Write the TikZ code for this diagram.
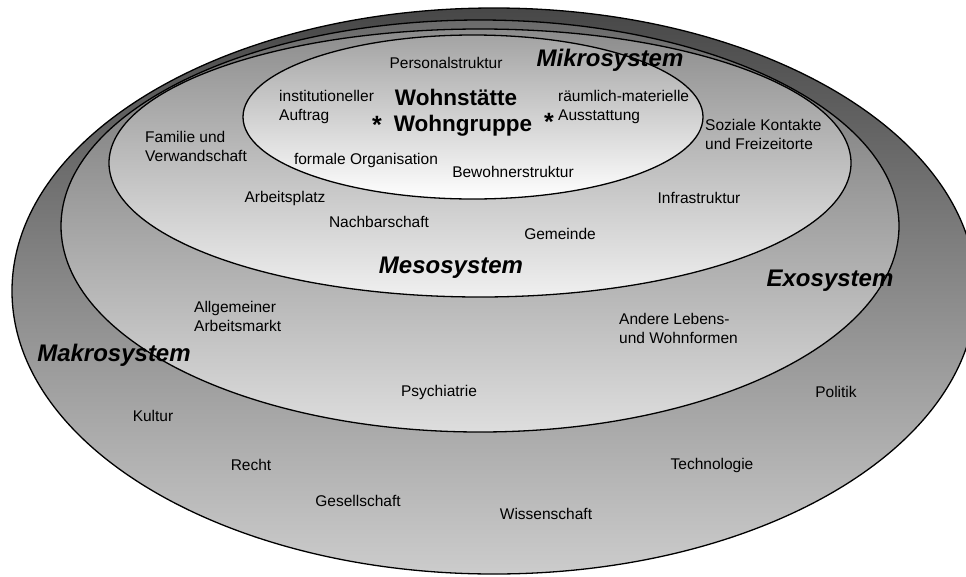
\documentclass[tikz,border=0pt]{standalone}
\usepackage{fontspec}
\setmainfont{Liberation Sans}
\usetikzlibrary{shapes.geometric}

\begin{document}
\begin{tikzpicture}[x=1pt, y=-1pt,
  system/.style={ellipse, draw=black, line width=1.3pt, inner sep=0pt},
  lbl/.style={inner sep=0pt, font=\fontsize{15.5}{19}\selectfont},
  lbll/.style={lbl, align=left, anchor=west},
  sysname/.style={inner sep=0pt, font=\fontsize{24}{28}\selectfont\bfseries\itshape},
  core/.style={inner sep=0pt, font=\fontsize{22.5}{26}\selectfont\bfseries},
  star/.style={inner sep=0pt, font=\fontsize{25}{27}\selectfont\bfseries}]
\useasboundingbox (0,0) rectangle (966,576);

% nested systems, outermost first
\node[system, minimum width=964pt, minimum height=566pt,
      top color=black!72, bottom color=black!20] (makro) at (494,291) {};
\node[system, minimum width=838pt, minimum height=412pt,
      top color=black!58, bottom color=black!13] (exo) at (480,226) {};
\node[system, minimum width=742pt, minimum height=268pt,
      top color=black!45, bottom color=black!6] (meso) at (480,163) {};
\node[system, minimum width=460pt, minimum height=164pt,
      top color=black!36, bottom color=white] (mikro) at (473,117) {};

% Mikrosystem
\node[lbl] (personal) at (446,63) {Personalstruktur};
\node[sysname] (mikroname) at (610,60) {Mikrosystem};
\node[lbll] (auftrag) at (279,107) {institutioneller\\Auftrag};
\node[core] (wohnstaette) at (456,97) {Wohnstätte};
\node[core] (wohngruppe) at (463,126) {Wohngruppe};
\node[star] (starleft) at (377,125) {*};
\node[star] (starright) at (549,122) {*};
\node[lbll] (ausstattung) at (558,107) {räumlich-materielle\\Ausstattung};
\node[lbl] (organisation) at (366,160) {formale Organisation};
\node[lbl] (bewohner) at (513,172) {Bewohnerstruktur};

% Mesosystem
\node[lbll] (familie) at (145,146) {Familie und\\Verwandschaft};
\node[lbll] (kontakte) at (705,134) {Soziale Kontakte\\und Freizeitorte};
\node[lbl] (arbeitsplatz) at (285,198) {Arbeitsplatz};
\node[lbl] (infrastruktur) at (699,198) {Infrastruktur};
\node[lbl] (nachbarschaft) at (379,222) {Nachbarschaft};
\node[lbl] (gemeinde) at (560,234) {Gemeinde};
\node[sysname] (mesoname) at (451,268) {Mesosystem};

% Exosystem
\node[sysname] (exoname) at (830,281) {Exosystem};
\node[lbll] (arbeitsmarkt) at (194,316) {Allgemeiner\\Arbeitsmarkt};
\node[lbll] (wohnformen) at (619,328) {Andere Lebens-\\und Wohnformen};
\node[lbl] (psychiatrie) at (439,392) {Psychiatrie};

% Makrosystem
\node[sysname] (makroname) at (114,355) {Makrosystem};
\node[lbl] (politik) at (836,392) {Politik};
\node[lbl] (kultur) at (153,416) {Kultur};
\node[lbl] (recht) at (251,465) {Recht};
\node[lbl] (technologie) at (712,465) {Technologie};
\node[lbl] (gesellschaft) at (358,501) {Gesellschaft};
\node[lbl] (wissenschaft) at (546,514) {Wissenschaft};
\end{tikzpicture}
\end{document}
